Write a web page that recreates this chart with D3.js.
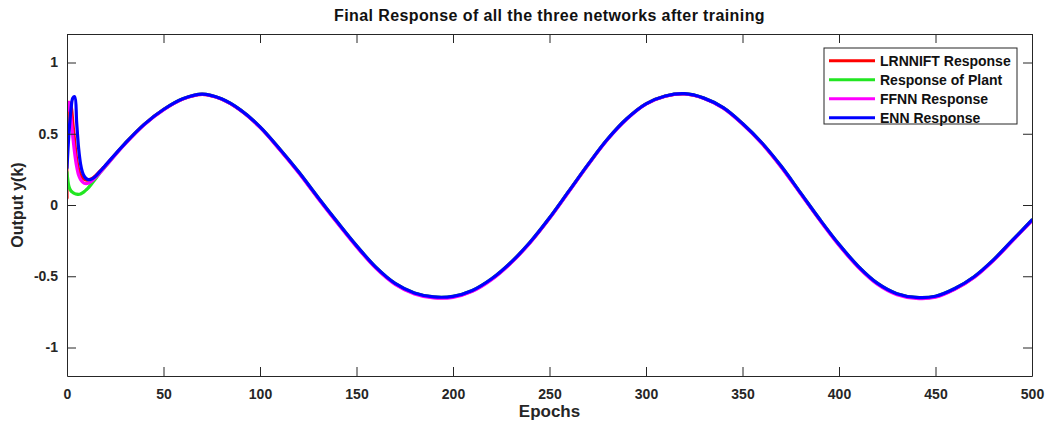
<!DOCTYPE html>
<html>
<head>
<meta charset="utf-8">
<script src="https://cdn.jsdelivr.net/npm/d3@7"></script>
<style>
  html, body { margin: 0; padding: 0; background: #fff; }
  svg { display: block; font-family: "Liberation Sans", Arial, Helvetica, sans-serif; }
</style>
</head>
<body>
<svg id="chart" width="1050" height="425"></svg>
<script>
// Sample epochs: every epoch through the start-up transient, then every 10 epochs.
const epochs = [
  0, 1, 2, 3, 4, 5, 6, 7, 8, 9, 10, 11, 12, 13, 14, 15, 16, 17, 18, 19, 20,
  30, 40, 50, 60, 70, 80, 90, 100, 110, 120, 130, 140, 150, 160, 170, 180, 190, 200,
  210, 220, 230, 240, 250, 260, 270, 280, 290, 300, 310, 320, 330, 340, 350, 360,
  370, 380, 390, 400, 410, 420, 430, 440, 450, 460, 470, 480, 490, 500
];

const lrnniftResponse = [
  0.05, 0.72, 0.70, 0.58, 0.44, 0.32, 0.25, 0.21, 0.19, 0.18, 0.175, 0.175, 0.18, 0.186, 0.196, 0.208, 0.222, 0.236, 0.25, 0.264, 0.278,
  0.430, 0.565, 0.669, 0.744, 0.777, 0.744, 0.664, 0.546, 0.394, 0.229, 0.051, -0.122, -0.289, -0.440, -0.553, -0.620, -0.648, -0.644,
  -0.603, -0.521, -0.406, -0.263, -0.093, 0.095, 0.283, 0.460, 0.604, 0.709, 0.764, 0.780, 0.749, 0.681, 0.569, 0.433,
  0.269, 0.083, -0.104, -0.280, -0.434, -0.553, -0.625, -0.651, -0.643, -0.590, -0.506, -0.388, -0.248, -0.108
];

const plantResponse = [
  0.23, 0.13, 0.10, 0.088, 0.08, 0.076, 0.075, 0.078, 0.085, 0.095, 0.107, 0.12, 0.136, 0.152, 0.17, 0.188, 0.206, 0.224, 0.24, 0.256, 0.272,
  0.431, 0.566, 0.670, 0.745, 0.778, 0.745, 0.666, 0.549, 0.397, 0.233, 0.055, -0.118, -0.285, -0.436, -0.550, -0.617, -0.645, -0.641,
  -0.600, -0.518, -0.403, -0.260, -0.090, 0.097, 0.285, 0.461, 0.605, 0.710, 0.765, 0.781, 0.750, 0.683, 0.572, 0.437,
  0.273, 0.087, -0.100, -0.276, -0.430, -0.550, -0.622, -0.648, -0.640, -0.586, -0.503, -0.385, -0.245, -0.105
];

const ffnnResponse = [
  0.66, 0.72, 0.62, 0.48, 0.36, 0.27, 0.21, 0.18, 0.162, 0.152, 0.15, 0.153, 0.16, 0.17, 0.182, 0.195, 0.21, 0.225, 0.24, 0.257, 0.272,
  0.427, 0.563, 0.667, 0.743, 0.776, 0.743, 0.663, 0.544, 0.391, 0.226, 0.048, -0.125, -0.292, -0.443, -0.557, -0.624, -0.652, -0.648,
  -0.606, -0.524, -0.408, -0.264, -0.094, 0.093, 0.282, 0.458, 0.602, 0.708, 0.763, 0.779, 0.748, 0.680, 0.568, 0.432,
  0.267, 0.081, -0.106, -0.283, -0.437, -0.557, -0.629, -0.655, -0.647, -0.592, -0.509, -0.390, -0.250, -0.110
];

const ennResponse = [
  0.26, 0.50, 0.66, 0.75, 0.76, 0.58, 0.40, 0.29, 0.23, 0.20, 0.185, 0.178, 0.178, 0.184, 0.193, 0.205, 0.219, 0.234, 0.249, 0.264, 0.28,
  0.431, 0.566, 0.670, 0.745, 0.778, 0.745, 0.666, 0.549, 0.397, 0.233, 0.055, -0.118, -0.285, -0.436, -0.550, -0.617, -0.645, -0.641,
  -0.600, -0.518, -0.403, -0.260, -0.090, 0.097, 0.285, 0.461, 0.605, 0.710, 0.765, 0.781, 0.750, 0.683, 0.572, 0.437,
  0.273, 0.087, -0.100, -0.276, -0.430, -0.550, -0.622, -0.648, -0.640, -0.586, -0.503, -0.385, -0.245, -0.105
];

const seriesNames = ["LRNNIFT Response", "Response of Plant", "FFNN Response", "ENN Response"];
const seriesValues = [lrnniftResponse, plantResponse, ffnnResponse, ennResponse];

const xTicks = [0, 50, 100, 150, 200, 250, 300, 350, 400, 450, 500];
const yTicks = [-1, -0.5, 0, 0.5, 1];
const yTickLabels = ["-1", "-0.5", "0", "0.5", "1"];

// ---- styling ----
const lineColors = ["#ff0000", "#22e622", "#ff00ff", "#0000ff"];
const axisColor = "#262626";
const plot = { left: 67, right: 1032, top: 34, bottom: 376 };

const svg = d3.select("#chart");

const x = d3.scaleLinear().domain([0, 500]).range([plot.left, plot.right]);
const y = d3.scaleLinear().domain([-1.2, 1.2]).range([plot.bottom, plot.top]);

svg.append("defs").append("clipPath").attr("id", "plot-clip")
  .append("rect")
  .attr("x", plot.left).attr("y", plot.top)
  .attr("width", plot.right - plot.left).attr("height", plot.bottom - plot.top);

// Response curves (ENN drawn last, on top)
const line = d3.line()
  .x((d, i) => x(epochs[i]))
  .y(d => y(d))
  .curve(d3.curveCatmullRom.alpha(0.5));

svg.append("g").attr("clip-path", "url(#plot-clip)")
  .selectAll("path")
  .data(seriesValues)
  .join("path")
  .attr("d", d => line(d))
  .attr("fill", "none")
  .attr("stroke", (d, i) => lineColors[i])
  .attr("stroke-width", 3.2)
  .attr("stroke-linejoin", "round")
  .attr("stroke-linecap", "round");

// Axes: box with inward ticks on all four sides
function styleAxis(g) {
  g.select(".domain").attr("stroke", axisColor).attr("stroke-width", 1);
  g.selectAll(".tick line").attr("stroke", axisColor).attr("stroke-width", 1);
  g.selectAll(".tick text")
    .attr("fill", "#262626")
    .attr("font-size", 14)
    .attr("font-weight", "bold")
    .attr("font-family", "'Liberation Sans', Arial, sans-serif");
}

svg.append("g")
  .attr("transform", `translate(0,${plot.bottom})`)
  .call(d3.axisBottom(x).tickValues(xTicks).tickSizeInner(-9).tickSizeOuter(0).tickPadding(13)
    .tickFormat(d3.format("d")))
  .call(styleAxis);

svg.append("g")
  .attr("transform", `translate(0,${plot.top})`)
  .call(d3.axisTop(x).tickValues(xTicks).tickSizeInner(-9).tickSizeOuter(0).tickFormat(""))
  .call(styleAxis);

svg.append("g")
  .attr("transform", `translate(${plot.left},0)`)
  .call(d3.axisLeft(y).tickValues(yTicks).tickSizeInner(-9).tickSizeOuter(0).tickPadding(9)
    .tickFormat((d, i) => yTickLabels[i]))
  .call(styleAxis);

svg.append("g")
  .attr("transform", `translate(${plot.right},0)`)
  .call(d3.axisRight(y).tickValues(yTicks).tickSizeInner(-9).tickSizeOuter(0).tickFormat(""))
  .call(styleAxis);

// Title and axis labels
svg.append("text")
  .attr("x", (plot.left + plot.right) / 2).attr("y", 21)
  .attr("text-anchor", "middle")
  .attr("font-size", 16).attr("font-weight", "bold").attr("fill", "#111")
  .attr("letter-spacing", 0.4)
  .text("Final Response of all the three networks after training");

svg.append("text")
  .attr("x", (plot.left + plot.right) / 2).attr("y", 417)
  .attr("text-anchor", "middle")
  .attr("font-size", 17).attr("font-weight", "bold").attr("fill", "#262626")
  .text("Epochs");

svg.append("text")
  .attr("transform", `translate(23,${(plot.top + plot.bottom) / 2}) rotate(-90)`)
  .attr("text-anchor", "middle")
  .attr("font-size", 16).attr("font-weight", "bold").attr("fill", "#262626")
  .text("Output y(k)");

// Legend
const legend = svg.append("g").attr("transform", "translate(824,48)");
legend.append("rect")
  .attr("x", 0).attr("y", 0).attr("width", 193).attr("height", 76)
  .attr("fill", "#fff").attr("stroke", axisColor).attr("stroke-width", 1);

const rows = legend.selectAll("g.row")
  .data(seriesNames)
  .join("g")
  .attr("class", "row")
  .attr("transform", (d, i) => `translate(0,${12.7 + i * 19})`);

rows.append("line")
  .attr("x1", 5).attr("x2", 51).attr("y1", 0).attr("y2", 0)
  .attr("stroke", (d, i) => lineColors[i]).attr("stroke-width", 3);

rows.append("text")
  .attr("x", 56).attr("y", 0).attr("dy", "0.35em")
  .attr("font-size", 14).attr("font-weight", "bold").attr("fill", "#111")
  .text(d => d);
</script>
</body>
</html>
